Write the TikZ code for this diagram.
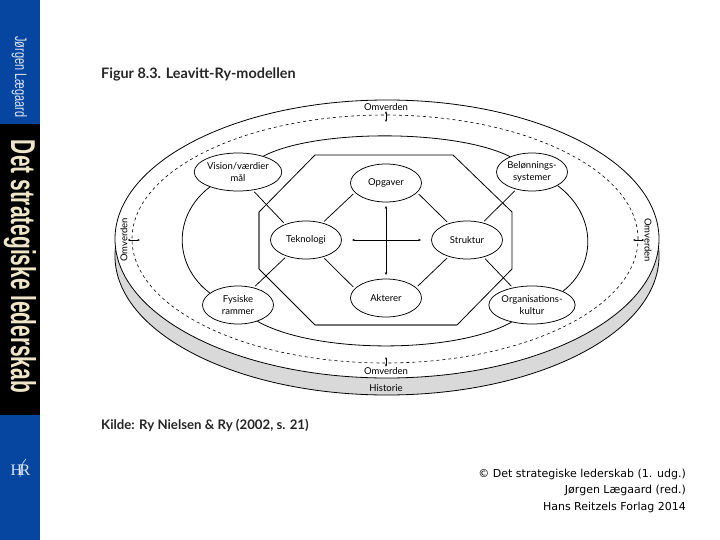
\documentclass[tikz,border=0pt]{standalone}
\usepackage{fontspec}
\usepackage{graphicx}
\setmainfont{Lato}
\newfontfamily\cornerfont{DejaVu Sans}
\newfontfamily\spinefont{Liberation Sans}
\newfontfamily\logofont{Liberation Serif}
\usetikzlibrary{arrows.meta,shapes.geometric}
\definecolor{barblue}{HTML}{0645A0}
\definecolor{cream}{HTML}{EFE6C8}
\definecolor{disc}{HTML}{D9D9D9}
\definecolor{palelabel}{HTML}{DCE6F5}
\tikzset{
  rim/.style={draw=black,line width=0.8pt},
  ring/.style={line width=0.8pt},
  bubble/.style={ellipse,draw=black,line width=0.75pt,fill=white,minimum width=71pt,minimum height=38pt,inner sep=0pt,align=center,font=\fontsize{9.5}{12.5}\selectfont},
  link/.style={line width=0.75pt,shorten >=2pt,shorten <=2pt},
  cross/.style={line width=0.75pt,{Stealth[length=3pt,width=2.4pt]}-{Stealth[length=3pt,width=2.4pt]}},
  tick/.style={line width=0.6pt,{Stealth[length=2.5pt,width=2pt]}-{Stealth[length=2.5pt,width=2pt]}},
  lbl/.style={inner sep=0pt,font=\fontsize{9.5}{11}\selectfont},
  heading/.style={inner sep=0pt,anchor=west,text=black!85}
}
\begin{document}
\begin{tikzpicture}[x=1pt,y=-1pt]
\useasboundingbox (0,0) rectangle (720,540);
% spine
\fill[barblue] (0,0) rectangle (40,540);
\fill[black] (0,124) rectangle (40,415);
\node[inner sep=0pt,rotate=-90,text=cream] (spine) at (20,266.5) {\resizebox{253pt}{25pt}{\spinefont\bfseries Det strategiske lederskab}};
\node[inner sep=0pt,rotate=-90,text=palelabel] (author) at (19.5,77) {\resizebox{81pt}{12pt}{\spinefont Jørgen Lægaard}};
\node[inner sep=0pt,text=palelabel,font=\logofont\fontsize{16}{16}\selectfont] (logo) at (20.5,470) {H\kern-2.5pt R};
\draw[palelabel,line width=0.6pt] (20,477) .. controls (21,468) and (21,464) .. (26,459);
% disc
\draw[rim,fill=disc] (387,256) ellipse [x radius=272pt,y radius=139pt];
\draw[rim,fill=white] (387,239) ellipse [x radius=272pt,y radius=139pt];
\draw[line width=0.6pt,dash pattern=on 3pt off 3pt] (385,239) ellipse [x radius=253pt,y radius=124pt];
% octagon
\draw[line width=0.8pt] (259,212) -- (315,155) -- (453,155) -- (512,212) -- (512,269) -- (457,325);
\draw[line width=0.8pt] (259,269) -- (315,325);
\draw[black!55,line width=1.3pt] (259,212) -- (259,269);
\draw[black!55,line width=1.3pt] (315,325) -- (457,325);
% bubbles
\node[bubble] (vis) at (238,172) {Vision/værdier\\mål};
\node[bubble] (bel) at (532,172) {Belønnings-\\systemer};
\node[bubble] (fys) at (238,305) {Fysiske\\rammer};
\node[bubble] (org) at (532,305) {Organisations-\\kultur};
\node[bubble] (opg) at (386,183) {Opgaver};
\node[bubble] (akt) at (386,298) {Akterer};
\node[bubble] (tek) at (306,240) {Teknologi};
\node[bubble] (str) at (467,240) {Struktur};
% ring segments
\draw[ring] (vis.32) .. controls (315,129) and (455,129) .. (bel.145);
\draw[ring] (fys.-40) .. controls (315,354) and (455,354) .. (org.-140);
\draw[ring] (vis.-152) .. controls (173,215) and (173,265) .. (fys.157);
\draw[ring] (bel.-28) .. controls (597,215) and (597,265) .. (org.24);
% links
\draw[link] (vis.-51) -- (tek.143);
\draw[link] (opg.-163) -- (tek.46);
\draw[link] (opg.-17) -- (str.138);
\draw[link] (bel.-132) -- (str.48);
\draw[link] (fys.48) -- (tek.-140);
\draw[link] (akt.163) -- (tek.-45);
\draw[link] (akt.19) -- (str.-138);
\draw[link] (org.138) -- (str.-46);
\draw[cross,shorten >=3.5pt,shorten <=3.5pt] (opg) -- (akt);
\draw[cross,shorten >=10pt,shorten <=10pt] (tek) -- (str);
% environment labels
\node[lbl,fill=white,inner ysep=0.5pt] (otop) at (386,107) {Omverden};
\node[lbl,fill=white,inner ysep=0.5pt] (obot) at (386,371) {Omverden};
\node[lbl,fill=disc,inner ysep=0.5pt] (hist) at (386,388) {Historie};
\node[lbl,rotate=90] (oleft) at (124,240) {Omverden};
\node[lbl,rotate=-90] (oright) at (648,240) {Omverden};
\coordinate (tt) at (386,122);
\coordinate (tb) at (386,357);
\coordinate (tl) at (140,240);
\coordinate (tr) at (633,240);
\draw[tick] (otop) -- (tt);
\draw[tick] (obot) -- (tb);
\draw[tick] (oleft) -- (tl);
\draw[tick] (oright) -- (tr);
% texts
\node[heading,font=\fontsize{14.4}{16}\selectfont\bfseries] (title) at (101,74) {Figur 8.3. Leavitt-Ry-modellen};
\node[heading,font=\fontsize{13.2}{16}\selectfont\bfseries] (source) at (101,425) {Kilde: Ry Nielsen \& Ry (2002, s. 21)};
\node[inner sep=0pt,anchor=north east,align=right,font=\cornerfont\fontsize{11}{16.5}\selectfont] (credit) at (686,468.5) {© Det strategiske lederskab (1. udg.)\\Jørgen Lægaard (red.)\\Hans Reitzels Forlag 2014};
\end{tikzpicture}
\end{document}
